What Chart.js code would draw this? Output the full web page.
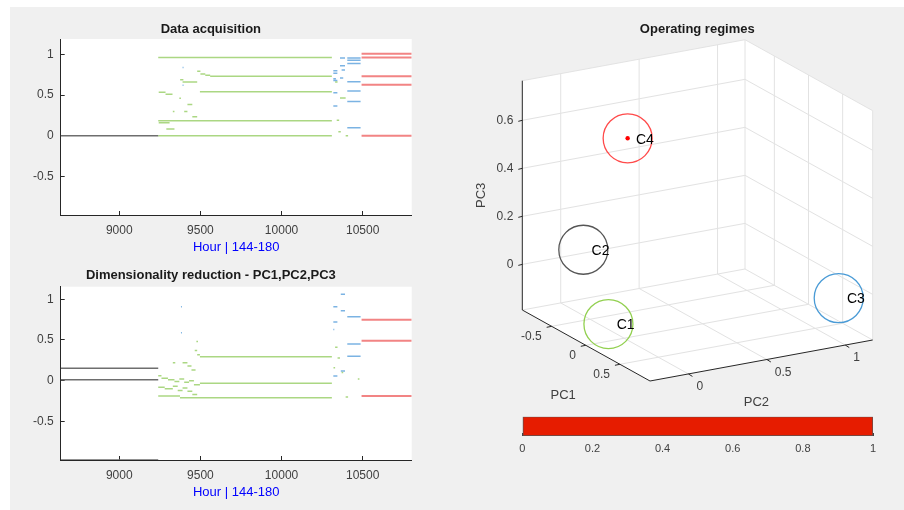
<!DOCTYPE html>
<html lang="en">
<head>
<meta charset="UTF-8">
<title>Operating regimes</title>
<script src="https://cdn.jsdelivr.net/npm/chart.js"></script>
<style>
    body { margin: 0; background: #fff; width: 904px; height: 510px; overflow: hidden; font-family: "Liberation Sans", Arial, sans-serif; }
    #fig { position: absolute; left: 10px; top: 7px; right: 0; bottom: 0; background: #f0f0f0; }
    canvas { position: absolute; }
    #acq { left: 10px; top: 8px; }
    #pca { left: 10px; top: 258px; }
    #reg { left: 460px; top: 0px; }
    #cbar { left: 460px; top: 405px; }
</style>
</head>
<body>
<div id="fig"></div>
<canvas id="acq" width="450" height="250"></canvas>
<canvas id="pca" width="450" height="250"></canvas>
<canvas id="reg" width="444" height="416"></canvas>
<canvas id="cbar" width="444" height="60"></canvas>

<script>
// ---- data: segments are [hourStart, hourEnd, value] ----
const hourRange = [8639, 10802];
const hourTicks = [9000, 9500, 10000, 10500];
const valueTicks = [-0.5, 0, 0.5, 1];

const acqGray = [[8639, 9240, 0]];
const acqGreen = [
    [9240, 10310, 0.963], [9240, 10310, 0.184], [9240, 10310, 0],
    [9243, 9285, 0.535], [9285, 9328, 0.51],
    [9480, 9500, 0.795], [9500, 9530, 0.76], [9530, 9560, 0.745], [9560, 10310, 0.733],
    [9497, 10310, 0.54],
    [9243, 9310, 0.16], [9290, 9340, 0.083],
    [9390, 9480, 0.66], [9375, 9395, 0.69],
    [9420, 9450, 0.385], [9400, 9420, 0.30], [9450, 9480, 0.233], [9330, 9340, 0.3], [9370, 9380, 0.46],
    [10360, 10395, 0.465], [10330, 10345, 0.66], [10340, 10355, 0.19], [10350, 10365, 0.05], [10395, 10410, 0.0]
];
const acqBlue = [
    [9390, 9396, 0.84], [9390, 9396, 0.62],
    [10319, 10344, 0.80], [10319, 10344, 0.77], [10319, 10335, 0.70], [10319, 10344, 0.68],
    [10319, 10344, 0.53], [10319, 10344, 0.365],
    [10360, 10391, 0.955], [10360, 10391, 0.86], [10370, 10391, 0.81], [10360, 10380, 0.71],
    [10405, 10487, 0.955], [10405, 10487, 0.93], [10405, 10487, 0.89], [10405, 10487, 0.665],
    [10405, 10487, 0.55], [10405, 10487, 0.42], [10405, 10487, 0.10]
];
const acqRed = [
    [10493, 10802, 1.01], [10493, 10802, 0.963], [10493, 10802, 0.733],
    [10493, 10802, 0.627], [10493, 10802, 0]
];

const pcaGray = [[8639, 9240, 0.152], [8639, 9240, 0.01], [8639, 9240, -0.975]];
const pcaGreen = [
    [9240, 9374, -0.188], [9374, 10310, -0.21],
    [9240, 9260, 0.06], [9260, 9300, 0.03], [9300, 9340, 0.01], [9340, 9370, -0.01], [9370, 9400, 0.02],
    [9400, 9430, -0.02], [9430, 9460, 0.0], [9460, 9497, -0.05], [9497, 10310, -0.033],
    [9240, 9280, -0.08], [9280, 9330, -0.1], [9330, 9360, -0.07], [9360, 9390, -0.12], [9390, 9420, -0.09],
    [9420, 9450, -0.13], [9450, 9480, -0.17],
    [9330, 9345, 0.22], [9390, 9420, 0.22], [9420, 9445, 0.18], [9445, 9470, 0.13], [9465, 9480, 0.37],
    [9475, 9485, 0.48], [9480, 9497, 0.32], [9497, 10310, 0.295],
    [10330, 10345, 0.41], [10320, 10330, 0.16], [10345, 10360, 0.28], [10370, 10380, 0.1],
    [10395, 10410, -0.2], [10470, 10480, 0.02]
];
const pcaBlue = [
    [9380, 9386, 0.91], [9380, 9386, 0.59],
    [10319, 10344, 0.91], [10319, 10344, 0.72], [10319, 10325, 0.63], [10319, 10344, 0.058],
    [10365, 10391, 1.063], [10365, 10391, 0.86], [10365, 10391, 0.12],
    [10405, 10487, 0.787], [10405, 10487, 0.45], [10405, 10487, 0.30]
];
const pcaRed = [[10493, 10802, 0.75], [10493, 10802, 0.49], [10493, 10802, -0.188]];

// operating regimes (cluster centres in PC space)
const clusterNames = ['C1', 'C2', 'C3', 'C4'];
const clusterPC1 = [0.09, -0.76, 0.89, -0.57];
const clusterPC2 = [-0.14, 0.07, 0.98, 0.27];
const clusterPC3 = [-0.10, 0.05, 0.00, 0.52];
const currentPoint = [-0.57, 0.27, 0.52];
const pc1Lim = [-0.93, 0.94], pc2Lim = [-0.245, 1.175], pc3Lim = [-0.19, 0.765];
const pc1Ticks = [-0.5, 0, 0.5], pc2Ticks = [0, 0.5, 1], pc3Ticks = [0, 0.2, 0.4, 0.6];
const colorbarTicks = [0, 0.2, 0.4, 0.6, 0.8, 1];

const COL = {
    gray: '#6e6e6e', green: 'rgba(150,205,100,0.8)', blue: 'rgba(90,160,220,0.8)', red: 'rgba(240,110,110,0.85)',
    axis: '#262626', tick: '#404040'
};
const tickFont = { family: '"Liberation Sans", Arial, sans-serif', size: 12 };

function segData(segs) {
    const out = [];
    segs.forEach(([x0, x1, y]) => { out.push({ x: x0, y: y }, { x: x1, y: y }, { x: x1, y: null }); });
    return out;
}
function lineSet(segs, color, w) {
    return { data: segData(segs), borderColor: color, borderWidth: w, pointRadius: 0, spanGaps: false, tension: 0 };
}

const plotBg = {
    id: 'plotBg',
    beforeDraw(c) {
        const a = c.chartArea;
        c.ctx.save();
        c.ctx.fillStyle = '#ffffff';
        c.ctx.fillRect(a.left, a.top, a.right - a.left, a.bottom - a.top);
        c.ctx.restore();
    }
};

function timeChart(id, title, sets, yLim, titlePad, xBand, xTitlePad) {
    return new Chart(document.getElementById(id), {
        type: 'line',
        data: { datasets: sets },
        plugins: [plotBg],
        options: {
            responsive: false, animation: false,
            layout: { padding: { left: 0, right: 48.3, top: 0, bottom: 0 } },
            plugins: {
                legend: { display: false }, tooltip: { enabled: false },
                title: { display: true, text: title, color: '#1a1a1a', padding: titlePad,
                    font: { family: tickFont.family, size: 13, weight: 'bold' } }
            },
            scales: {
                x: {
                    type: 'linear', min: hourRange[0], max: hourRange[1],
                    afterBuildTicks: s => { s.ticks = hourTicks.map(v => ({ value: v })); },
                    afterFit: s => { s.height = xBand; },
                    border: { display: true, color: COL.axis, width: 1 },
                    grid: { drawOnChartArea: false, drawTicks: true, tickLength: -4, color: COL.axis },
                    ticks: { color: COL.tick, font: tickFont, padding: 12, autoSkip: false, maxRotation: 0,
                        callback: v => String(v) },
                    title: { display: true, text: 'Hour | 144-180', color: '#0000ff',
                        font: { family: tickFont.family, size: 13 }, padding: { top: 0, bottom: xTitlePad } }
                },
                y: {
                    min: yLim[0], max: yLim[1],
                    afterBuildTicks: s => { s.ticks = valueTicks.map(v => ({ value: v })); },
                    afterFit: s => { s.width = 50.7; },
                    border: { display: true, color: COL.axis, width: 1 },
                    grid: { drawOnChartArea: false, drawTicks: true, tickLength: -4, color: COL.axis },
                    ticks: { color: COL.tick, font: tickFont, padding: 11, callback: v => String(v) }
                }
            }
        }
    });
}

timeChart('acq', 'Data acquisition', [
    lineSet(acqGray, COL.gray, 1.5), lineSet(acqGreen, COL.green, 1.5),
    lineSet(acqBlue, COL.blue, 1.5), lineSet(acqRed, COL.red, 2)
], [-0.974, 1.19], { top: 13.2, bottom: 2.2 }, 43, 3.2);

timeChart('pca', 'Dimensionality reduction - PC1,PC2,PC3', [
    lineSet(pcaGray, COL.gray, 1.5), lineSet(pcaGreen, COL.green, 1.5),
    lineSet(pcaBlue, COL.blue, 1.5), lineSet(pcaRed, COL.red, 2)
], [-0.975, 1.155], { top: 9.2, bottom: 3.9 }, 48, 8.2);

// ---- 3D view: orthographic projection of the PC box onto the canvas ----
const VIEW = { ox: 62.3, oy: 310, e1: [127.7, 71], e2: [222.7, -41], e3: [0, -229.3] };
function proj(a, b, c) {
    const u = (a - pc1Lim[0]) / (pc1Lim[1] - pc1Lim[0]);
    const v = (b - pc2Lim[0]) / (pc2Lim[1] - pc2Lim[0]);
    const w = (c - pc3Lim[0]) / (pc3Lim[1] - pc3Lim[0]);
    return {
        x: VIEW.ox + u * VIEW.e1[0] + v * VIEW.e2[0] + w * VIEW.e3[0],
        y: VIEW.oy + u * VIEW.e1[1] + v * VIEW.e2[1] + w * VIEW.e3[1]
    };
}

const box3d = {
    id: 'box3d',
    beforeDatasetsDraw(chart) {
        const ctx = chart.ctx, sx = chart.scales.x, sy = chart.scales.y;
        const P = (a, b, c) => { const q = proj(a, b, c); return [sx.getPixelForValue(q.x), sy.getPixelForValue(q.y)]; };
        const [a0, a1] = pc1Lim, [b0, b1] = pc2Lim, [c0, c1] = pc3Lim;
        const line = (p, q, color, w) => {
            ctx.beginPath(); ctx.strokeStyle = color; ctx.lineWidth = w;
            ctx.moveTo(p[0], p[1]); ctx.lineTo(q[0], q[1]); ctx.stroke();
        };
        ctx.save();
        // white plot box
        const hull = [P(a0, b0, c1), P(a0, b1, c1), P(a1, b1, c1), P(a1, b1, c0), P(a1, b0, c0), P(a0, b0, c0)];
        ctx.beginPath();
        hull.forEach((p, i) => i ? ctx.lineTo(p[0], p[1]) : ctx.moveTo(p[0], p[1]));
        ctx.closePath(); ctx.fillStyle = '#ffffff'; ctx.fill();
        // grid
        const g = '#e2e2e2';
        pc3Ticks.forEach(z => { line(P(a0, b0, z), P(a0, b1, z), g, 1); line(P(a0, b1, z), P(a1, b1, z), g, 1); });
        pc2Ticks.forEach(v => { line(P(a0, v, c0), P(a0, v, c1), g, 1); line(P(a0, v, c0), P(a1, v, c0), g, 1); });
        pc1Ticks.forEach(u => { line(P(u, b1, c0), P(u, b1, c1), g, 1); line(P(u, b0, c0), P(u, b1, c0), g, 1); });
        // wall outlines
        [[P(a0, b0, c1), P(a0, b1, c1)], [P(a0, b1, c1), P(a1, b1, c1)], [P(a1, b1, c1), P(a1, b1, c0)],
         [P(a0, b1, c0), P(a0, b1, c1)], [P(a0, b1, c0), P(a1, b1, c0)], [P(a0, b0, c0), P(a0, b1, c0)]]
            .forEach(([p, q]) => line(p, q, g, 1));
        // axes
        line(P(a0, b0, c0), P(a0, b0, c1), COL.axis, 1);
        line(P(a0, b0, c0), P(a1, b0, c0), COL.axis, 1);
        line(P(a1, b0, c0), P(a1, b1, c0), COL.axis, 1);
        ctx.font = '12px "Liberation Sans", Arial, sans-serif';
        ctx.fillStyle = COL.tick;
        ctx.textBaseline = 'middle';
        pc3Ticks.forEach(z => {
            const p = P(a0, b0, z);
            line(p, [p[0] - 4, p[1] + 1], COL.axis, 1);
            ctx.textAlign = 'right'; ctx.fillText(String(z), p[0] - 9, p[1]);
        });
        pc1Ticks.forEach(u => {
            const p = P(u, b0, c0);
            line(p, [p[0] - 5, p[1] + 1], COL.axis, 1);
            ctx.textAlign = 'right'; ctx.fillText(String(u), p[0] - 10, p[1] + 10);
        });
        pc2Ticks.forEach(v => {
            const p = P(a1, v, c0);
            line(p, [p[0] + 4, p[1] + 2.5], COL.axis, 1);
            ctx.textAlign = 'left'; ctx.fillText(String(v), p[0] + 8, p[1] + 13);
        });
        // axis labels
        ctx.font = '13px "Liberation Sans", Arial, sans-serif';
        ctx.textAlign = 'center';
        const m1 = P((a0 + a1) / 2, b0, c0), m2 = P(a1, (b0 + b1) / 2, c0), m3 = P(a0, b0, (c0 + c1) / 2);
        ctx.fillText('PC1', m1[0] - 23, m1[1] + 50);
        ctx.fillText('PC2', m2[0] - 5, m2[1] + 42);
        ctx.save(); ctx.translate(m3[0] - 40.6, m3[1]); ctx.rotate(-Math.PI / 2); ctx.fillText('PC3', 0, 0); ctx.restore();
        // title
        ctx.font = 'bold 13px "Liberation Sans", Arial, sans-serif';
        ctx.fillStyle = '#1a1a1a';
        ctx.fillText('Operating regimes', 237.3, 29.3);
        ctx.restore();
    },
    afterDatasetsDraw(chart) {
        const ctx = chart.ctx, meta = chart.getDatasetMeta(0);
        ctx.save();
        ctx.font = '14px "Liberation Sans", Arial, sans-serif';
        ctx.fillStyle = '#000000';
        ctx.textAlign = 'left'; ctx.textBaseline = 'middle';
        meta.data.forEach((pt, i) => ctx.fillText(clusterNames[i], pt.x + 8.3, pt.y + 1.5));
        ctx.restore();
    }
};

const clusterColors = ['#92d050', '#555555', '#4a9bd6', '#ff4a4a'];
const cp = proj(currentPoint[0], currentPoint[1], currentPoint[2]);
new Chart(document.getElementById('reg'), {
    type: 'scatter',
    data: {
        datasets: [{
            data: clusterNames.map((n, i) => proj(clusterPC1[i], clusterPC2[i], clusterPC3[i])),
            pointRadius: 24.5, pointStyle: 'circle', backgroundColor: 'rgba(0,0,0,0)',
            borderColor: clusterColors, borderWidth: 1.3
        }, {
            data: [cp], pointRadius: 2.2, backgroundColor: '#ff0000', borderColor: '#ff0000', borderWidth: 0
        }]
    },
    plugins: [box3d],
    options: {
        responsive: false, animation: false,
        layout: { padding: 0, autoPadding: false },
        plugins: { legend: { display: false }, tooltip: { enabled: false } },
        scales: {
            x: { type: 'linear', min: 0, max: 444, display: false },
            y: { type: 'linear', min: 0, max: 416, reverse: true, display: false }
        }
    }
});

// ---- colorbar ----
new Chart(document.getElementById('cbar'), {
    type: 'bar',
    data: {
        labels: ['regime'],
        datasets: [{
            data: [colorbarTicks[colorbarTicks.length - 1]], backgroundColor: '#e61c00',
            borderColor: '#555555', borderWidth: 1, borderSkipped: false,
            barPercentage: 1, categoryPercentage: 1
        }]
    },
    options: {
        indexAxis: 'y', responsive: false, animation: false,
        layout: { padding: { left: 62.3, right: 31, top: 11.7, bottom: 0 } },
        plugins: { legend: { display: false }, tooltip: { enabled: false } },
        scales: {
            x: {
                z: 1, min: 0, max: 1,
                afterBuildTicks: s => { s.ticks = colorbarTicks.map(v => ({ value: v })); },
                afterFit: s => { s.height = 29; },
                border: { display: false },
                grid: { drawOnChartArea: false, drawTicks: true, tickLength: -3, color: '#404040' },
                ticks: { color: COL.tick, font: { family: tickFont.family, size: 11 }, padding: 9.7,
                    autoSkip: false, maxRotation: 0, callback: v => String(v) }
            },
            y: { display: false }
        }
    }
});
</script>
</body>
</html>
